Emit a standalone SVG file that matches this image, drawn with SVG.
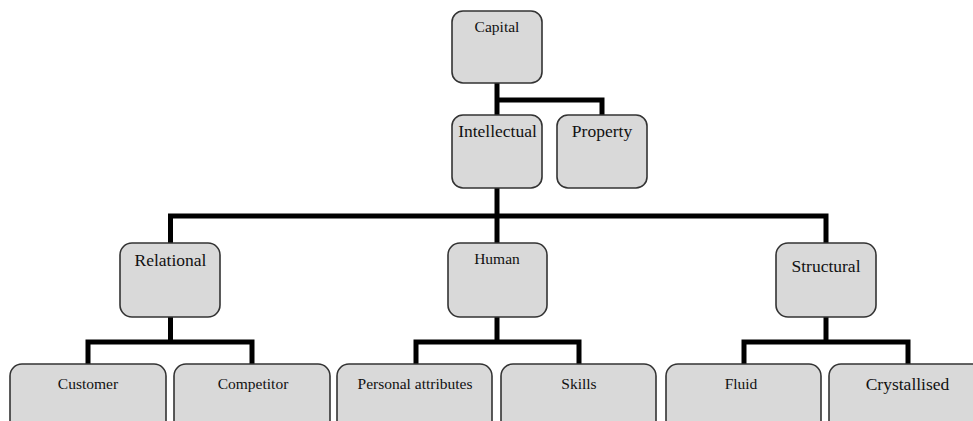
<svg xmlns="http://www.w3.org/2000/svg" width="973" height="421" viewBox="0 0 973 421">
<style>
.box{fill:#d9d9d9;stroke:#333;stroke-width:1.6}
.t{font-family:"Liberation Serif","Times New Roman",serif;fill:#111;text-anchor:middle}
.s{font-size:15.5px}
.l{font-size:17.5px}
.c{fill:none;stroke:#000;stroke-width:5;stroke-linejoin:miter;stroke-linecap:butt}
</style>
<rect width="973" height="421" fill="#fff"/>
<g id="connectors">
<path class="c" d="M497 83 V115"/>
<path class="c" d="M497 100 H602 V115"/>
<path class="c" d="M497 188 V243"/>
<path class="c" d="M170.5 243 V216 H826 V243"/>
<path class="c" d="M170.5 317 V342"/>
<path class="c" d="M88 364 V342 H252 V364"/>
<path class="c" d="M497 317 V342"/>
<path class="c" d="M416 364 V342 H579 V364"/>
<path class="c" d="M826 317 V342"/>
<path class="c" d="M744 364 V342 H908 V364"/>
</g>
<g id="capital"><rect class="box" x="452" y="11" width="90" height="72" rx="11"/><text class="t s" x="497" y="32">Capital</text></g>
<g id="intellectual"><rect class="box" x="452" y="115" width="90" height="73" rx="11"/><text class="t l" x="497.5" y="137">Intellectual</text></g>
<g id="property"><rect class="box" x="557" y="115" width="90" height="73" rx="11"/><text class="t l" x="602" y="137">Property</text></g>
<g id="relational"><rect class="box" x="120" y="243" width="100" height="74" rx="12"/><text class="t l" x="170.5" y="266">Relational</text></g>
<g id="human"><rect class="box" x="448" y="243" width="99" height="74" rx="12"/><text class="t s" x="497" y="264">Human</text></g>
<g id="structural"><rect class="box" x="776" y="243" width="100" height="74" rx="12"/><text class="t l" x="826" y="272">Structural</text></g>
<g id="customer"><rect class="box" x="10" y="364" width="156" height="80" rx="12"/><text class="t s" x="88" y="389">Customer</text></g>
<g id="competitor"><rect class="box" x="174" y="364" width="156" height="80" rx="12"/><text class="t s" x="253" y="389">Competitor</text></g>
<g id="personal-attributes"><rect class="box" x="337" y="364" width="155" height="80" rx="12"/><text class="t s" x="415" y="389">Personal attributes</text></g>
<g id="skills"><rect class="box" x="501" y="364" width="155" height="80" rx="12"/><text class="t s" x="579" y="389">Skills</text></g>
<g id="fluid"><rect class="box" x="666" y="364" width="155" height="80" rx="12"/><text class="t s" x="741" y="389">Fluid</text></g>
<g id="crystallised"><rect class="box" x="829" y="364" width="160" height="80" rx="12"/><text class="t l" x="907.5" y="390">Crystallised</text></g>
</svg>
